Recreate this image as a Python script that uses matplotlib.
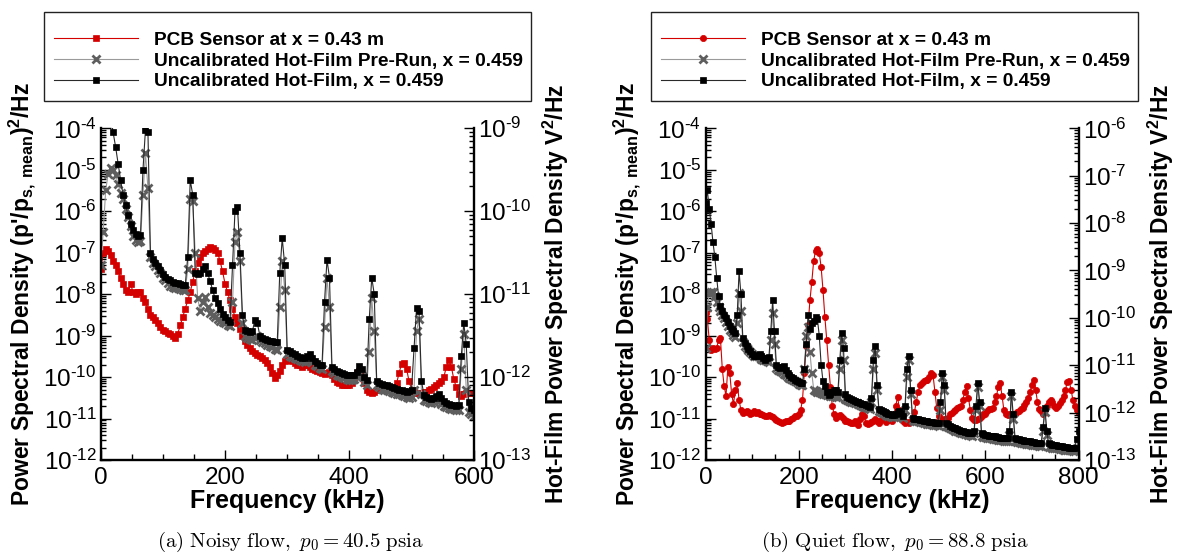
import numpy as np
import matplotlib.pyplot as plt
from matplotlib.patches import Rectangle
from matplotlib.ticker import LogLocator, MultipleLocator, NullFormatter, FuncFormatter

plt.rcParams['font.family'] = 'Liberation Sans'
plt.rcParams['mathtext.fontset'] = 'custom'
plt.rcParams['mathtext.rm'] = 'Liberation Sans'
plt.rcParams['mathtext.it'] = 'Liberation Sans:italic'
plt.rcParams['mathtext.bf'] = 'Liberation Sans:bold'

W, H = 1177, 553

# ---- data: log10 of PSD, 4 kHz bins ----
freq_a = np.arange(0, 601, 4)   # kHz, panel (a)
freq_b = np.arange(0, 801, 4)   # kHz, panel (b)

# (a) noisy flow
pcb_a = [
    -7.4, -7.0, -6.9, -6.95, -7.05, -7.2, -7.3, -7.45, -7.6, -7.75,
    -7.9, -7.95, -7.75, -7.95, -8.0, -7.95, -7.95, -8.1, -8.2, -8.35,
    -8.5, -8.55, -8.62, -8.7, -8.8, -8.86, -8.9, -8.93, -8.97, -9.02,
    -9.06, -8.95, -8.75, -8.55, -8.35, -8.15, -7.95, -7.7, -7.45, -7.25,
    -7.1, -7.0, -6.95, -6.9, -6.87, -6.88, -6.93, -7.0, -7.2, -7.45,
    -7.75, -7.95, -8.15, -8.35, -8.55, -8.7, -8.85, -9.0, -9.12, -9.22,
    -9.3, -9.37, -9.42, -9.46, -9.5, -9.55, -9.6, -9.67, -9.76, -9.9,
    -10.02, -9.95, -9.85, -9.72, -9.62, -9.58, -9.6, -9.62, -9.65, -9.7,
    -9.72, -9.75, -9.72, -9.7, -9.75, -9.8, -9.82, -9.85, -9.88, -9.9,
    -9.92, -9.9, -9.88, -9.95, -10.05, -10.12, -10.15, -10.18, -10.2, -10.2,
    -10.18, -10.15, -10.05, -9.9, -9.85, -9.95, -10.15, -10.3, -10.35, -10.38,
    -10.35, -10.3, -10.25, -10.22, -10.25, -10.28, -10.3, -10.3, -10.25, -10.15,
    -9.9, -9.68, -9.65, -9.8, -10.1, -10.3, -10.35, -10.38, -10.38, -10.38,
    -10.37, -10.35, -10.32, -10.28, -10.25, -10.2, -10.15, -10.1, -10.0, -9.75,
    -9.6, -9.75, -10.05, -10.25, -10.4, -10.45, -10.4, -10.38, -10.38, -10.38,
    -10.38,
]
prerun_a = [
    -7.3, -6.5, -5.5, -5.1, -4.95, -5.0, -5.12, -5.35, -5.55, -5.7,
    -5.95, -6.15, -6.35, -6.6, -6.7, -6.75, -6.72, -5.6, -4.6, -5.45,
    -7.1, -7.25, -7.33, -7.42, -7.5, -7.6, -7.66, -7.74, -7.8, -7.83,
    -7.85, -7.86, -7.88, -7.9, -7.9, -7.4, -5.7, -5.75, -7.0, -8.1,
    -8.4, -8.2, -8.06, -8.3, -8.45, -8.5, -8.55, -8.6, -8.65, -8.68,
    -8.7, -8.74, -8.78, -8.2, -6.75, -6.5, -7.2, -8.7, -9.02, -9.05,
    -9.08, -9.1, -9.05, -9.0, -9.1, -9.15, -9.18, -9.22, -9.25, -9.28,
    -9.32, -9.35, -8.3, -7.2, -7.9, -9.45, -9.5, -9.52, -9.55, -9.57,
    -9.6, -9.62, -9.64, -9.6, -9.56, -9.64, -9.7, -9.74, -9.78, -9.8,
    -8.8, -7.6, -8.3, -9.85, -9.9, -9.95, -9.98, -10.0, -10.02, -10.04,
    -10.06, -10.06, -10.05, -10.0, -9.92, -9.98, -10.12, -10.2, -9.4, -8.1,
    -8.9, -10.2, -10.25, -10.28, -10.3, -10.32, -10.34, -10.36, -10.38, -10.4,
    -10.42, -10.44, -10.46, -10.48, -10.5, -10.48, -10.3, -8.9, -8.6, -10.4,
    -10.55, -10.58, -10.6, -10.62, -10.6, -10.55, -10.58, -10.66, -10.7, -10.72,
    -10.74, -10.76, -10.78, -10.8, -10.8, -9.8, -8.95, -10.3, -10.85, -10.9,
    -10.95,
]
hotfilm_a = [
    -3.5, -3.3, -3.3, -3.4, -3.7, -4.1, -4.45, -4.85, -5.25, -5.6,
    -5.85, -6.1, -6.3, -6.45, -6.55, -6.6, -6.58, -5.0, -4.03, -4.1,
    -7.0, -7.15, -7.25, -7.33, -7.42, -7.52, -7.58, -7.63, -7.67, -7.7,
    -7.72, -7.73, -7.75, -7.77, -7.78, -7.1, -5.25, -5.6, -7.5, -7.52,
    -7.5, -7.4, -7.33, -7.5, -7.68, -7.9, -8.1, -8.22, -8.35, -8.48,
    -8.56, -8.62, -8.66, -7.3, -6.0, -5.9, -7.0, -8.5, -8.86, -8.9,
    -8.92, -8.9, -8.62, -8.7, -9.0, -9.05, -9.08, -9.1, -9.12, -9.14,
    -9.15, -9.15, -7.5, -6.65, -7.3, -9.35, -9.38, -9.42, -9.45, -9.48,
    -9.52, -9.55, -9.55, -9.5, -9.45, -9.55, -9.62, -9.66, -9.7, -9.72,
    -8.2, -7.17, -7.6, -9.75, -9.8, -9.85, -9.88, -9.9, -9.93, -9.95,
    -9.96, -9.96, -9.95, -9.88, -9.74, -9.8, -10.0, -10.06, -8.6, -7.6,
    -8.0, -10.1, -10.14, -10.16, -10.18, -10.2, -10.22, -10.25, -10.27, -10.28,
    -10.3, -10.32, -10.34, -10.35, -10.33, -10.3, -9.3, -8.34, -8.4, -10.1,
    -10.43, -10.48, -10.5, -10.52, -10.5, -10.45, -10.42, -10.5, -10.58, -10.62,
    -10.65, -10.67, -10.68, -10.7, -10.68, -9.5, -8.7, -9.2, -10.6, -10.75,
    -10.8,
]

# (b) quiet flow
pcb_b = [
    -8.46, -8.6, -9.1, -9.34, -9.3, -9.32, -9.3, -9.1, -9.06, -9.8,
    -10.22, -10.45, -9.75, -9.9, -10.4, -10.65, -10.3, -10.14, -10.55, -10.8,
    -10.87, -10.85, -10.82, -10.85, -10.88, -10.87, -10.83, -10.86, -10.84, -10.88,
    -10.9, -10.92, -10.95, -10.94, -10.92, -10.95, -10.97, -11.0, -11.03, -11.05,
    -11.08, -11.1, -11.08, -11.06, -11.07, -11.06, -11.0, -10.98, -10.95, -10.94,
    -10.9, -10.8, -10.55, -9.9, -9.25, -8.75, -8.15, -7.7, -7.2, -6.95,
    -6.9, -7.0, -7.35, -7.9, -8.55, -9.1, -9.7, -10.25, -10.7, -10.9,
    -10.98, -10.95, -10.92, -10.96, -11.0, -11.05, -11.07, -11.08, -11.1, -11.1,
    -11.05, -11.1, -11.15, -11.0, -10.88, -10.95, -11.1, -11.12, -11.1, -11.08,
    -11.05, -11.0, -11.06, -11.1, -11.04, -10.98, -11.02, -11.08, -11.03, -11.0,
    -11.05, -10.9, -10.7, -10.47, -10.8, -11.0, -11.05, -11.1, -11.08, -11.1,
    -11.05, -10.98, -10.85, -10.6, -10.35, -10.2, -10.14, -10.1, -10.08, -10.06,
    -10.0, -9.9, -9.95, -10.35, -10.75, -10.95, -11.02, -11.04, -11.02, -11.0,
    -10.98, -10.9, -10.87, -10.82, -10.8, -10.75, -10.72, -10.7, -10.55, -10.35,
    -10.22, -10.5, -10.8, -10.98, -11.03, -11.04, -11.02, -10.98, -10.95, -10.9,
    -10.88, -10.82, -10.78, -10.76, -10.75, -10.6, -10.45, -10.25, -10.15, -10.45,
    -10.8, -10.9, -10.92, -10.9, -10.88, -10.9, -10.88, -10.85, -10.82, -10.78,
    -10.75, -10.68, -10.6, -10.5, -10.35, -10.2, -10.08, -10.3, -10.6, -10.78,
    -10.82, -10.88, -10.8, -10.7, -10.6, -10.55, -10.6, -10.7, -10.75, -10.7,
    -10.62, -10.55, -10.45, -10.3, -10.12, -10.1, -10.3, -10.55, -10.7, -10.8,
    -10.87,
]
prerun_b = [
    -9.3, -8.3, -7.98, -7.94, -7.96, -8.05, -8.18, -8.3, -8.4, -8.5,
    -8.58, -8.68, -8.78, -8.86, -8.92, -8.98, -9.03, -8.7, -7.98, -8.4,
    -9.15, -9.25, -9.3, -9.34, -9.4, -9.45, -9.48, -9.5, -9.5, -9.52,
    -9.56, -9.58, -9.6, -9.62, -9.64, -9.1, -8.46, -9.2, -9.78, -9.82,
    -9.86, -9.88, -9.92, -9.96, -9.99, -10.02, -10.04, -10.06, -10.1, -10.13,
    -10.16, -10.18, -10.2, -9.8, -9.0, -8.8, -9.4, -9.9, -10.3, -10.33,
    -10.35, -10.37, -10.39, -10.4, -10.42, -10.43, -10.44, -10.45, -10.46, -10.46,
    -10.47, -10.48, -9.8, -9.1, -9.6, -10.52, -10.55, -10.57, -10.59, -10.6,
    -10.62, -10.63, -10.65, -10.67, -10.69, -10.71, -10.73, -10.75, -10.77, -10.6,
    -9.8, -9.42, -10.3, -10.82, -10.85, -10.87, -10.89, -10.91, -10.93, -10.95,
    -10.96, -10.97, -10.95, -10.92, -10.9, -10.94, -10.98, -10.8, -10.0, -9.58,
    -10.4, -11.03, -11.05, -11.06, -11.07, -11.08, -11.09, -11.1, -11.11, -11.12,
    -11.13, -11.14, -11.15, -11.16, -11.16, -11.17, -10.8, -10.0, -10.3, -11.18,
    -11.2, -11.23, -11.25, -11.27, -11.29, -11.31, -11.33, -11.35, -11.36, -11.37,
    -11.38, -11.39, -11.4, -11.41, -11.35, -10.8, -10.25, -10.7, -11.42, -11.44,
    -11.45, -11.46, -11.47, -11.48, -11.49, -11.5, -11.5, -11.51, -11.52, -11.52,
    -11.53, -11.54, -11.54, -11.4, -10.45, -11.0, -11.55, -11.56, -11.57, -11.58,
    -11.59, -11.6, -11.61, -11.62, -11.62, -11.63, -11.64, -11.65, -11.65, -11.66,
    -11.67, -11.3, -10.85, -11.4, -11.68, -11.69, -11.7, -11.71, -11.72, -11.72,
    -11.73, -11.74, -11.75, -11.75, -11.76, -11.77, -11.77, -11.78, -11.78, -11.7,
    -11.6,
]
hotfilm_b = [
    -5.8, -5.5, -5.95, -6.3, -6.75, -7.1, -7.6, -8.05, -8.28, -8.4,
    -8.5, -8.58, -8.68, -8.76, -8.84, -8.9, -8.93, -8.5, -7.45, -8.0,
    -9.05, -9.18, -9.26, -9.32, -9.38, -9.44, -9.48, -9.5, -9.46, -9.44,
    -9.5, -9.55, -9.58, -9.55, -9.52, -8.9, -8.15, -8.9, -9.72, -9.76,
    -9.78, -9.75, -9.74, -9.82, -9.9, -9.96, -10.0, -10.03, -10.06, -10.09,
    -10.12, -10.14, -10.15, -9.8, -9.2, -8.5, -8.85, -8.7, -8.65, -8.54,
    -8.6, -9.0, -9.7, -10.1, -10.22, -10.35, -10.43, -10.4, -10.36, -10.32,
    -10.3, -10.35, -9.6, -8.94, -9.3, -10.4, -10.48, -10.5, -10.53, -10.55,
    -10.57, -10.59, -10.6, -10.62, -10.64, -10.66, -10.68, -10.7, -10.72, -10.5,
    -9.6, -9.26, -10.2, -10.78, -10.8, -10.83, -10.85, -10.87, -10.89, -10.9,
    -10.92, -10.92, -10.88, -10.84, -10.82, -10.86, -10.93, -10.7, -9.8, -9.5,
    -10.3, -10.98, -11.0, -11.01, -11.02, -11.03, -11.04, -11.05, -11.06, -11.07,
    -11.08, -11.08, -11.09, -11.1, -11.1, -11.1, -10.6, -9.9, -10.2, -11.1,
    -11.14, -11.17, -11.2, -11.22, -11.24, -11.26, -11.28, -11.3, -11.31, -11.32,
    -11.33, -11.34, -11.35, -11.36, -11.3, -10.7, -10.14, -10.6, -11.35, -11.37,
    -11.39, -11.4, -11.41, -11.42, -11.42, -11.43, -11.44, -11.45, -11.46, -11.46,
    -11.47, -11.47, -11.48, -11.3, -10.35, -10.9, -11.48, -11.5, -11.5, -11.51,
    -11.52, -11.53, -11.54, -11.55, -11.55, -11.56, -11.57, -11.58, -11.58, -11.59,
    -11.6, -11.2, -10.75, -11.3, -11.6, -11.62, -11.63, -11.64, -11.65, -11.66,
    -11.66, -11.67, -11.68, -11.68, -11.69, -11.7, -11.71, -11.71, -11.7, -11.5,
    -11.3,
]

labels = ["PCB Sensor at x = 0.43 m",
          "Uncalibrated Hot-Film Pre-Run, x = 0.459",
          "Uncalibrated Hot-Film, x = 0.459"]
captions = [r"$\mathrm{(a)\ Noisy\ flow,}\ p_0 = 40.5\ \mathrm{psia}$",
            r"$\mathrm{(b)\ Quiet\ flow,}\ p_0 = 88.8\ \mathrm{psia}$"]

RED = '#d40000'
LEFT_LABEL = r"Power Spectral Density (p'/p$_{\mathbf{s,\ mean}}$)$^{\mathbf{2}}$/Hz"
RIGHT_LABEL = r"Hot-Film Power Spectral Density V$^{\mathbf{2}}$/Hz"
TICK_FS = 17.5


def pow10_label(v, pos):
    # Tecplot style: short hyphen in the exponent
    e = int(round(np.log10(v)))
    sign = '\u2010' if e < 0 else ''
    return r'$\mathdefault{10^{%s%d}}$' % (sign, abs(e))


def px(x, y):
    return x / W, 1 - y / H


def log_axis(yaxis):
    yaxis.set_major_locator(LogLocator(base=10, numticks=20))
    yaxis.set_minor_locator(LogLocator(base=10, subs=np.arange(2, 10), numticks=20))
    yaxis.set_major_formatter(FuncFormatter(pow10_label))
    yaxis.set_minor_formatter(NullFormatter())


def panel(fig, x0, freq, pcb, pre, hot, pcb_marker, pcb_ms, xmax, right_lim, legend_x, caption):
    # axes box in pixels: left x0, width 373, top 128.3, bottom 460
    ax = fig.add_axes([x0 / W, 1 - 460 / H, 373 / W, (460 - 128.3) / H])
    l1, = ax.plot(freq, 10.0 ** np.array(pcb), color=RED, lw=0.8, marker=pcb_marker,
                  ms=pcb_ms, mfc=RED, mec=RED, mew=0.5)
    l2, = ax.plot(freq, 10.0 ** np.array(pre), color='#9a9a9a', lw=0.8, marker='x',
                  ms=5.5, mec='#5e5e5e', mew=2.0)
    l3, = ax.plot(freq, 10.0 ** np.array(hot), color='#2a2a2a', lw=0.8, marker='s',
                  ms=3.8, mfc='black', mec='black', mew=0.5)

    ax.set_yscale('log')
    ax.set_ylim(1e-12, 1e-4)
    ax.set_xlim(0, xmax)
    ax.xaxis.set_major_locator(MultipleLocator(200))
    ax.xaxis.set_minor_locator(MultipleLocator(50))
    log_axis(ax.yaxis)
    ax.tick_params(which='both', direction='in', top=False, right=False,
                   labelsize=TICK_FS, width=1)
    ax.tick_params(axis='y', which='major', length=7, pad=3)
    ax.tick_params(axis='y', which='minor', length=3.5)
    ax.tick_params(axis='x', which='major', length=7, pad=5)
    ax.tick_params(axis='x', which='minor', length=4)
    ax.spines['top'].set_visible(False)
    ax.spines['right'].set_visible(False)
    for s in ('left', 'bottom'):
        ax.spines[s].set_linewidth(1.7)

    ax2 = ax.twinx()
    ax2.set_yscale('log')
    ax2.set_ylim(*right_lim)
    log_axis(ax2.yaxis)
    ax2.tick_params(which='both', direction='in', labelsize=TICK_FS, width=1)
    ax2.tick_params(which='major', length=7, pad=3)
    ax2.tick_params(which='minor', length=3.5)
    for s in ('top', 'left', 'bottom'):
        ax2.spines[s].set_visible(False)
    ax2.spines['right'].set_linewidth(1.7)

    cx = x0 + 373 / 2
    fig.text(*px(cx, 501), 'Frequency (kHz)', ha='center', va='center',
             fontsize=18, fontweight='bold')
    fig.text(*px(x0 - 78, 294), LEFT_LABEL, rotation=90, ha='center', va='center',
             fontsize=16.5, fontweight='bold')
    fig.text(*px(x0 + 373 + 82, 294), RIGHT_LABEL, rotation=90, ha='center', va='center',
             fontsize=16.5, fontweight='bold')
    fig.text(*px(cx + 3, 542), caption, ha='center', va='center', fontsize=15,
             math_fontfamily='cm')

    # legend box drawn separately so the rows can sit where the reference has them
    fig.add_artist(Rectangle(px(legend_x, 101), 487 / W, 89 / H, transform=fig.transFigure,
                             fill=False, ec='#222222', lw=1.0))
    fig.legend([l1, l2, l3], labels, loc='center left',
               bbox_to_anchor=px(legend_x, 61), borderaxespad=0, numpoints=1,
               prop={'weight': 'bold', 'size': 13.8}, handlelength=4.4,
               handletextpad=0.85, borderpad=0.5, labelspacing=0.17,
               frameon=False)


fig = plt.figure(figsize=(W / 100, H / 100), dpi=100)
panel(fig, 100.7, freq_a, pcb_a, prerun_a, hotfilm_a, 's', 3.8, 600, (1e-13, 1e-9), 44, captions[0])
panel(fig, 705.5, freq_b, pcb_b, prerun_b, hotfilm_b, 'o', 4.5, 800, (1e-13, 1e-6), 651, captions[1])

fig.savefig('out.png', dpi=100)
